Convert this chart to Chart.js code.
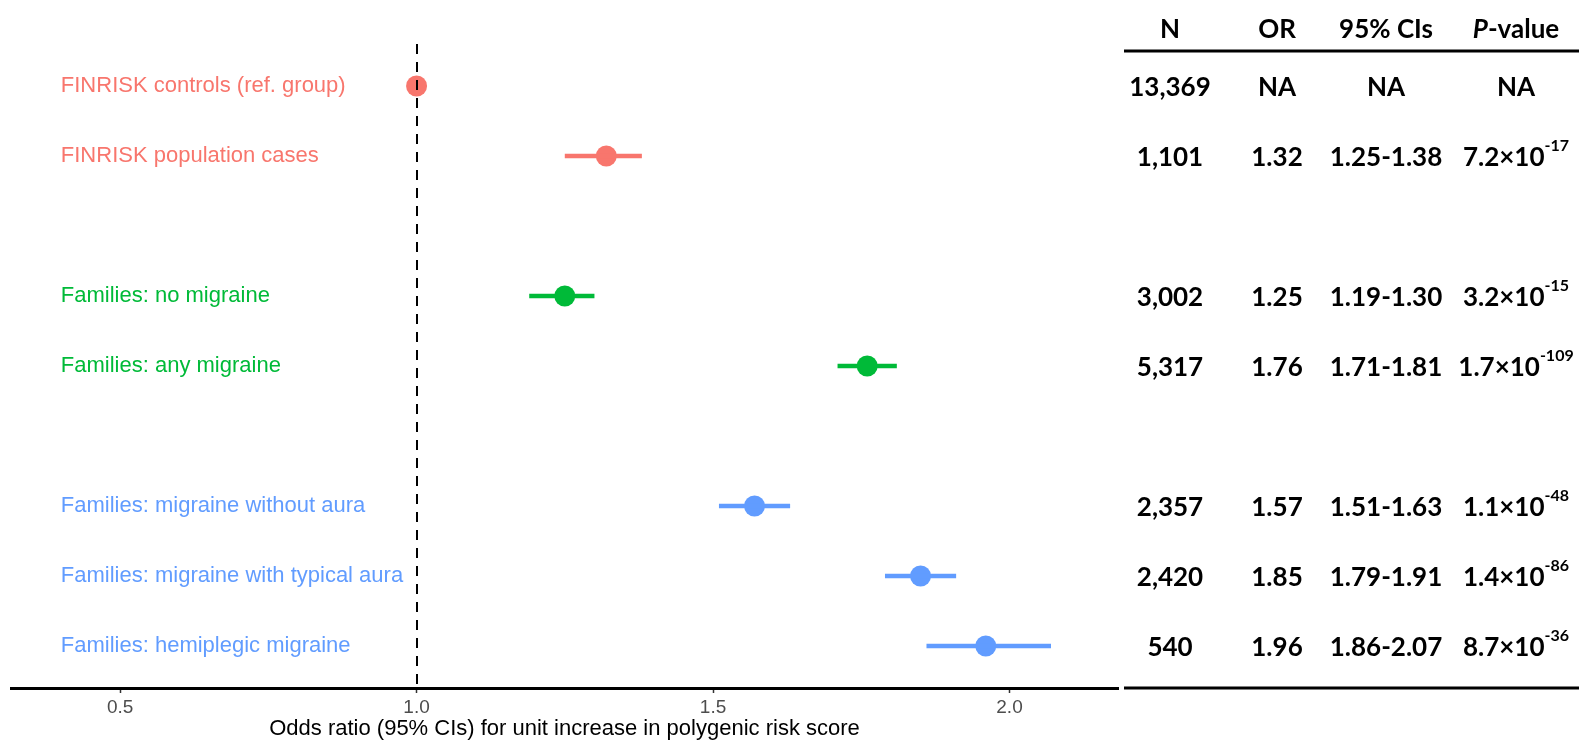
<!DOCTYPE html>
<html>
<head>
<meta charset="utf-8">
<script src="https://cdn.jsdelivr.net/npm/chart.js@4"></script>
<style>
  html, body { margin: 0; padding: 0; background: #fff; }
  #wrap { width: 1579px; height: 742px; position: relative; }
</style>
</head>
<body>
<div id="wrap"><canvas id="myChart"></canvas></div>
<script>
var labels = ['FINRISK controls (ref. group)', 'FINRISK population cases', 'Families: no migraine',
  'Families: any migraine', 'Families: migraine without aura', 'Families: migraine with typical aura',
  'Families: hemiplegic migraine'];
var groupOf = [0, 0, 1, 1, 2, 2, 2];
var groupColors = ['#F8766D', '#00BA38', '#619CFF'];
var orValues = [1.00, 1.32, 1.25, 1.76, 1.57, 1.85, 1.96];
var lowerCI = [null, 1.25, 1.19, 1.71, 1.51, 1.79, 1.86];
var upperCI = [null, 1.38, 1.30, 1.81, 1.63, 1.91, 2.07];
var tickValues = [0.5, 1.0, 1.5, 2.0];

var nText = ['13,369', '1,101', '3,002', '5,317', '2,357', '2,420', '540'];
var orText = ['NA', '1.32', '1.25', '1.76', '1.57', '1.85', '1.96'];
var ciText = ['NA', '1.25-1.38', '1.19-1.30', '1.71-1.81', '1.51-1.63', '1.79-1.91', '1.86-2.07'];
var pBase = ['NA', '7.2\u00d710', '3.2\u00d710', '1.7\u00d710', '1.1\u00d710', '1.4\u00d710', '8.7\u00d710'];
var pExp = [null, '-17', '-15', '-109', '-48', '-86', '-36'];

// one empty row between groups
var rowOf = labels.map(function (l, i) { return i + groupOf[i]; });
var colorOf = labels.map(function (l, i) { return groupColors[groupOf[i]]; });

var datasets = [];
labels.forEach(function (l, i) {
  if (lowerCI[i] === null) return;
  datasets.push({
    type: 'line',
    data: [{x: lowerCI[i], y: rowOf[i]}, {x: upperCI[i], y: rowOf[i]}],
    borderColor: colorOf[i],
    borderWidth: 4.5,
    pointRadius: 0,
    borderCapStyle: 'butt'
  });
});
datasets.push({
  type: 'scatter',
  data: labels.map(function (l, i) { return {x: orValues[i], y: rowOf[i]}; }),
  backgroundColor: colorOf,
  pointRadius: 10.5,
  borderWidth: 0
});

var annotate = {
  id: 'annotate',
  afterDatasetsDraw: function (chart) {
    var c = chart.ctx, xs = chart.scales.x, a = chart.chartArea;
    // dashed reference line at OR = 1
    c.save();
    c.strokeStyle = '#000';
    c.lineWidth = 2;
    c.setLineDash([10, 8]);
    var x1 = Math.round(xs.getPixelForValue(1.0));
    c.beginPath();
    c.moveTo(x1, a.top);
    c.lineTo(x1, a.bottom);
    c.stroke();
    c.restore();
  },
  afterDraw: function (chart) {
    var c = chart.ctx, xs = chart.scales.x, ys = chart.scales.y, a = chart.chartArea;
    c.save();
    // row labels inside the panel
    c.font = '22px "Liberation Sans", Arial, sans-serif';
    c.textAlign = 'left';
    c.textBaseline = 'middle';
    labels.forEach(function (l, i) {
      c.fillStyle = colorOf[i];
      c.fillText(l, xs.getPixelForValue(0.4), ys.getPixelForValue(rowOf[i]));
    });

    // table on the right
    var cols = [1170, 1277, 1386, 1516];
    var bold = 'bold 26px Lato, "Open Sans", sans-serif';
    c.fillStyle = '#000';
    c.textAlign = 'center';
    c.font = bold;
    c.fillText('N', cols[0], 30);
    c.fillText('OR', cols[1], 30);
    c.fillText('95% CIs', cols[2], 30);
    c.font = 'italic ' + bold;
    var wP = c.measureText('P').width;
    c.font = bold;
    var wV = c.measureText('-value').width;
    var sx = cols[3] - (wP + wV) / 2;
    c.textAlign = 'left';
    c.font = 'italic ' + bold;
    c.fillText('P', sx, 30);
    c.font = bold;
    c.fillText('-value', sx + wP, 30);

    c.lineWidth = 3;
    c.strokeStyle = '#000';
    c.beginPath();
    c.moveTo(1124, 51); c.lineTo(1579, 51);
    c.moveTo(1124, a.bottom); c.lineTo(1579, a.bottom);
    c.stroke();

    labels.forEach(function (l, i) {
      var y = ys.getPixelForValue(rowOf[i]) + 2;
      c.font = bold;
      c.textAlign = 'center';
      c.fillText(nText[i], cols[0], y);
      c.fillText(orText[i], cols[1], y);
      c.fillText(ciText[i], cols[2], y);
      if (pExp[i] === null) {
        c.fillText(pBase[i], cols[3], y);
      } else {
        var wb = c.measureText(pBase[i]).width;
        c.font = 'bold 16px Lato, "Open Sans", sans-serif';
        var we = c.measureText(pExp[i]).width;
        var left = cols[3] - (wb + we) / 2;
        c.textAlign = 'left';
        c.fillText(pExp[i], left + wb, y - 12);
        c.font = bold;
        c.fillText(pBase[i], left, y);
      }
    });
    c.restore();
  }
};

var ctx = document.getElementById('myChart').getContext('2d');
var myChart = new Chart(ctx, {
  data: { datasets: datasets },
  options: {
    responsive: true,
    maintainAspectRatio: false,
    animation: false,
    layout: { padding: { left: 11, right: 461, top: 44, bottom: 0 } },
    plugins: {
      legend: { display: false },
      tooltip: { enabled: false }
    },
    scales: {
      x: {
        type: 'linear',
        min: 0.316,
        max: 2.183,
        afterBuildTicks: function (scale) {
          scale.ticks = tickValues.map(function (v) { return {value: v}; });
        },
        afterFit: function (scale) { scale.height = 54; },
        grid: {
          drawOnChartArea: false,
          drawTicks: true,
          tickLength: 5,
          tickColor: '#333',
          tickWidth: 1.5
        },
        border: { display: true, color: '#000', width: 3 },
        ticks: {
          padding: 3,
          color: '#4D4D4D',
          font: { family: '"Liberation Sans", Arial, sans-serif', size: 19 },
          callback: function (v) { return v.toFixed(1); }
        },
        title: {
          display: true,
          text: 'Odds ratio (95% CIs) for unit increase in polygenic risk score',
          color: '#000',
          font: { family: '"Liberation Sans", Arial, sans-serif', size: 22 },
          padding: { top: 0, bottom: 0 }
        }
      },
      y: {
        type: 'linear',
        display: false,
        reverse: true,
        min: -0.6,
        max: 8.6
      }
    }
  },
  plugins: [annotate]
});
</script>
</body>
</html>
